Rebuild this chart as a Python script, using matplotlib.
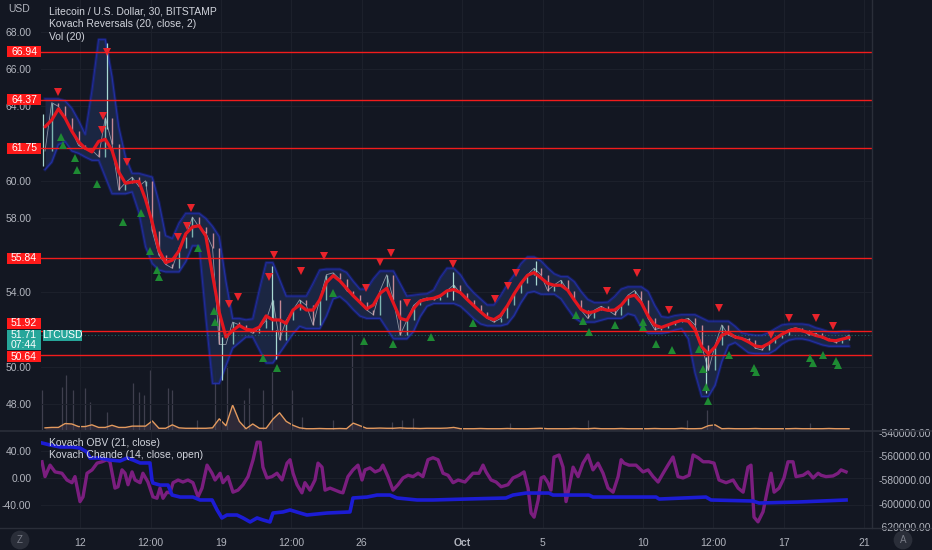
import numpy as np
import pandas as pd
import matplotlib
matplotlib.use("Agg")
import matplotlib.pyplot as plt
from matplotlib.lines import Line2D
from matplotlib.patches import Rectangle
from matplotlib.transforms import blended_transform_factory

plt.rcParams["font.family"] = ["Liberation Sans", "DejaVu Sans"]

BG = "#131722"
TXT = "#b2b5be"
GRID = "#1c202b"
LEVEL_RED = "#f21c1c"
TEAL = "#26a69a"
FS = 7.5

# time is in days since Sep 10 00:00; price bars every 8 hours from 06:00
close = [
    61.6, 64.2, 64.0, 63.4, 62.7, 61.9, 61.7, 61.65, 61.3, 63.4,
    62.0, 59.5, 59.9, 60.2, 59.7, 60.0, 57.3, 56.0, 55.5, 55.3,
    56.4, 57.0, 58.05, 57.5, 57.2, 56.4, 51.2, 51.2, 52.4, 52.25,
    52.0, 51.8, 52.1, 52.5, 53.6, 51.45, 52.5, 53.05, 53.6, 53.3,
    52.25, 53.6, 54.95, 55.05, 54.7, 54.1, 53.85, 53.5, 53.05, 52.8,
    54.1, 54.95, 53.6, 51.7, 52.5, 53.3, 53.6, 53.7, 53.6, 53.75,
    54.1, 54.4, 53.95, 53.6, 53.3, 52.95, 52.6, 52.4, 52.6, 53.3,
    53.95, 54.5, 54.95, 55.3, 54.95, 54.1, 54.4, 54.65, 54.1, 53.6,
    53.05, 52.6, 53.05, 53.25, 53.05, 52.8, 53.3, 53.85, 54.1, 53.6,
    52.6, 52.0, 52.1, 52.25, 52.4, 52.5, 52.6, 52.25, 51.15, 49.8,
    51.15, 52.25, 51.7, 51.55, 51.55, 51.45, 51.0, 50.9, 51.3, 51.55,
    51.7, 52.0, 52.1, 52.0, 51.7, 51.8, 51.55, 51.45, 51.3, 51.45,
    51.71,
]
bar_days = 0.25 + np.arange(len(close)) / 3

# single long wicks that stand out of the 8h closes
wick_t = [0.15, 3.33, 9.05, 11.54, 11.74, 20.55, 24.68, 33.13]
wick_hi = [63.6, 67.4, 51.6, 55.4, 52.0, 55.1, 55.7, 50.5]
wick_lo = [60.8, 62.8, 49.3, 52.0, 50.4, 53.6, 54.4, 48.6]

levels = [66.94, 64.37, 61.75, 55.84, 51.92, 50.64]
last_price = 51.71

# Kovach reversal marks
top_t = [0.90, 3.13, 3.08, 3.33, 4.33, 6.87, 7.31, 7.51, 9.40, 9.85,
         11.39, 11.64, 12.99, 14.13, 16.22, 16.92, 17.46, 18.26, 20.55, 22.64,
         23.28, 23.68, 28.21, 29.70, 31.29, 33.78, 36.37, 37.26, 38.61, 39.45]
top_p = [64.77, 63.48, 62.73, 66.92, 61.01, 56.98, 57.57, 58.54, 53.38, 53.75,
         54.83, 56.01, 55.15, 55.96, 54.24, 55.63, 56.12, 53.43, 55.53, 53.65,
         54.34, 55.04, 54.08, 55.04, 53.05, 53.16, 51.71, 52.62, 52.62, 52.19]
bot_t = [1.04, 1.14, 1.74, 1.84, 2.84, 4.13, 5.02, 5.47, 5.82, 5.92,
         7.86, 8.66, 8.71, 11.09, 11.79, 14.58, 16.12, 17.56, 19.45, 21.54,
         26.67, 27.01, 27.31, 28.61, 30.00, 30.00, 30.65, 31.44, 32.79, 32.99,
         33.13, 33.23, 34.28, 35.52, 35.62, 38.31, 38.46, 38.96, 39.60, 39.70]
bot_p = [62.35, 61.92, 61.23, 60.58, 59.83, 57.78, 58.27, 56.23, 55.20, 54.83,
         56.39, 53.00, 52.41, 50.47, 49.94, 53.97, 51.39, 51.23, 51.60, 52.35,
         52.78, 52.46, 51.87, 52.25, 52.41, 52.14, 51.23, 50.90, 50.96, 49.88,
         48.91, 48.16, 50.63, 49.94, 49.72, 50.47, 50.20, 50.63, 50.31, 50.10]

# volume (relative units), 20-bar average per 8h bar plus the tall single bars
vol_ma = [
    0.5, 0.6, 0.6, 1.5, 1.4, 0.8, 0.8, 1.2, 0.6, 0.6,
    1.1, 0.6, 0.6, 0.9, 0.9, 0.9, 2.1, 0.4, 0.4, 1.2,
    0.5, 0.4, 0.4, 0.4, 0.4, 0.5, 2.6, 1.0, 5.8, 2.0,
    0.3, 1.4, 0.4, 0.4, 2.5, 4.0, 2.0, 1.1, 0.5, 0.3,
    0.3, 0.35, 0.3, 0.3, 0.35, 0.3, 1.6, 1.0, 0.4, 0.4,
    0.45, 0.4, 0.4, 0.5, 0.4, 0.4, 0.35, 0.4, 0.4, 0.4,
    0.45, 0.6, 0.3, 0.3, 0.3, 0.35, 0.3, 0.3, 0.3, 0.35,
    0.3, 0.3, 0.3, 0.35, 0.4, 0.3, 0.3, 0.3, 0.3, 0.35,
    0.3, 0.3, 0.4, 0.3, 0.3, 0.3, 0.35, 0.3, 0.3, 0.3,
    0.3, 0.35, 0.3, 0.3, 0.3, 0.4, 0.3, 0.3, 0.35, 1.0,
    1.2, 0.3, 0.35, 0.3, 0.3, 0.3, 0.35, 0.3, 0.3, 0.3,
    0.3, 0.3, 0.35, 0.3, 0.3, 0.3, 0.3, 0.35, 0.3, 0.3,
    0.3,
]
spike_t = [0.10, 1.09, 1.29, 1.64, 2.24, 2.49, 3.33, 4.63, 4.93, 5.17,
           5.47, 6.37, 6.57, 7.81, 8.71, 9.30, 10.15, 10.40, 11.09, 11.54,
           12.54, 13.03, 14.58, 15.52, 16.02, 17.51, 18.01, 18.56, 23.38, 27.26,
           32.19, 33.18, 38.31]
spike_h = [9.3, 10.0, 12.8, 9.3, 9.8, 6.5, 4.2, 10.9, 8.8, 8.1,
           14.0, 9.8, 9.3, 2.3, 14.0, 15.0, 7.0, 9.8, 9.3, 13.5,
           9.3, 3.0, 2.3, 22.0, 19.8, 1.9, 2.3, 2.8, 1.6, 2.3,
           2.3, 4.7, 1.6]

# Kovach Chande (14, close, open)
ch_t = [0.10, 0.25, 0.50, 0.75, 1.09, 1.34, 1.59, 1.74, 1.99, 2.14,
        2.34, 2.59, 2.84, 3.08, 3.33, 3.48, 3.73, 3.88, 4.08, 4.23,
        4.38, 4.58, 4.73, 4.98, 5.12, 5.37, 5.62, 5.82, 5.97, 6.12,
        6.32, 6.47, 6.62, 6.87, 7.11, 7.36, 7.61, 7.86, 8.06, 8.31,
        8.56, 8.71, 8.96, 9.10, 9.35, 9.60, 9.85, 10.10, 10.35, 10.60,
        10.80, 10.95, 11.09, 11.29, 11.54, 11.79, 12.04, 12.29, 12.44, 12.59,
        12.79, 13.03, 13.18, 13.43, 13.68, 13.83, 14.03, 14.18, 14.43, 14.68,
        14.93, 15.07, 15.32, 15.57, 15.82, 16.02, 16.17, 16.42, 16.67, 16.92,
        17.06, 17.31, 17.56, 17.81, 18.06, 18.31, 18.56, 18.81, 19.05, 19.30,
        19.55, 19.80, 20.05, 20.30, 20.55, 20.80, 21.14, 21.54, 21.84, 22.04,
        22.19, 22.44, 22.69, 22.94, 23.28, 23.53, 23.83, 24.08, 24.28, 24.43,
        24.58, 24.78, 24.93, 25.07, 25.27, 25.42, 25.57, 25.82, 26.02, 26.17,
        26.32, 26.52, 26.77, 27.01, 27.26, 27.51, 27.76, 28.01, 28.26, 28.51,
        28.76, 28.91, 29.05, 29.30, 29.65, 30.00, 30.25, 30.50, 30.75, 31.00,
        31.24, 31.49, 31.74, 31.99, 32.29, 32.49, 32.74, 32.99, 33.28, 33.53,
        33.78, 34.13, 34.48, 34.73, 34.98, 35.22, 35.37, 35.52, 35.72, 35.97,
        36.22, 36.37, 36.52, 36.77, 37.01, 37.21, 37.46, 37.61, 37.96, 38.21,
        38.46, 38.71, 38.86, 39.10, 39.45, 39.70, 39.85, 40.10]
ch_v = [24, 2, 19, 9, 7, -3, -7, 2, -35, -28,
        7, 12, 22, 24, 27, 24, -15, -13, 12, 7,
        -10, 9, -3, -7, 7, -6, -28, -30, -15, -30,
        -21, -22, -7, -3, -6, -3, -7, -28, -15, 19,
        7, -3, 7, -7, 2, -21, -18, -10, 2, 27,
        53, 53, 16, 0, 2, 7, -3, 22, 27, 7,
        -10, -22, -7, -18, -3, 22, 16, -18, -15, -18,
        -21, -22, 2, 12, 19, -3, 12, 15, 9, 12,
        19, 2, -18, -10, 0, 4, 2, 7, 2, 27,
        30, 27, 7, 4, -7, -3, -6, 7, 7, 19,
        9, -3, -6, -13, -10, 0, 4, 9, -15, -52,
        -58, -33, 0, 2, -7, -18, 31, 34, 16, -35,
        -15, 16, 2, 22, 34, 12, 22, 7, -15, -21,
        2, 27, 22, 19, 19, 9, 12, 2, -6, 7,
        19, 31, 2, 0, 4, 34, 30, 24, 24, 22,
        -3, -7, -3, -15, -21, 16, 19, -58, -65, -50,
        -13, 7, -21, -15, 0, 24, 24, 2, 4, 9,
        0, 7, 4, 2, 3, 7, 12, 9]

# Kovach OBV (21, close)
obv_t = [0.10, 0.50, 1.00, 1.59, 1.99, 2.34, 2.49, 2.99, 3.48, 3.98,
         4.33, 4.63, 4.98, 5.47, 5.57, 5.62, 5.97, 6.37, 6.57, 6.97,
         7.61, 7.96, 8.56, 8.81, 9.05, 9.30, 9.80, 10.10, 10.45, 10.80,
         11.09, 11.44, 11.59, 12.09, 12.44, 12.94, 13.28, 14.28, 15.42, 15.57,
         16.27, 16.77, 17.41, 17.76, 18.76, 19.55, 21.19, 23.18, 23.53, 24.18,
         25.32, 25.52, 27.31, 27.51, 30.65, 30.80, 33.13, 33.38, 35.47, 35.77,
         37.76, 40.10]
obv_v = [-548500, -550200, -551900, -551900, -552800, -556200, -561300, -561300, -563000, -563800,
         -561300, -563000, -565500, -565500, -580000, -582600, -584300, -584300, -592800, -594500,
         -594500, -597000, -597000, -605500, -612300, -609800, -609800, -612300, -615700, -612300,
         -614000, -615700, -608100, -607200, -605500, -608100, -609800, -608100, -607200, -595300,
         -594500, -592800, -592800, -595300, -597000, -597000, -596200, -595300, -592800, -591100,
         -591100, -592800, -592800, -594500, -594500, -596200, -594500, -597000, -597900, -599600,
         -598700, -597000]

price_ticks = [48, 50, 54, 58, 60, 64, 66, 68]
tick_days = [2, 5.5, 9, 12.5, 16, 21, 25, 30, 33.5, 37, 41]
tick_labels = ["12", "12:00", "19", "12:00", "26", "Oct", "5", "10", "12:00", "17", "21"]


fig = plt.figure(figsize=(9.32, 5.5), dpi=100, facecolor=BG)
ax = fig.add_axes([41 / 932, 120 / 550, 831 / 932, 430 / 550])
ax2 = fig.add_axes([41 / 932, 22 / 550, 831 / 932, 96 / 550])
vax = ax.twinx()
ax.set_zorder(vax.get_zorder() + 1)
ax.patch.set_visible(False)

xlim = (0.05, 41.39)

# ---- volume ----
vax.set_ylim(0, 100)
vax.set_xlim(*xlim)
vax.vlines(spike_t, 0, spike_h, color="#454454", lw=0.9, alpha=0.9)
vax.fill_between(bar_days, 0, vol_ma, color="#3a3140", alpha=0.7, lw=0)
vax.plot(bar_days, vol_ma, color="#e39a5f", lw=1.0)
vax.axis("off")

# ---- price pane ----
c = np.array(close)
prev = np.r_[c[0], c[:-1]]
hi = np.maximum(prev, c)
lo = np.minimum(prev, c)
hi_b, lo_b = hi.copy(), lo.copy()
for t, h, l in zip(wick_t, wick_hi, wick_lo):
    k = int(round((t - bar_days[0]) * 3))
    hi_b[k] = max(hi_b[k], h)
    lo_b[k] = min(lo_b[k], l)

band_top = pd.Series(hi_b).rolling(3, center=True, min_periods=1).max()
band_top = band_top.rolling(2, min_periods=1).mean().shift(-1).fillna(band_top) + 0.2
band_bot = pd.Series(lo_b).rolling(3, center=True, min_periods=1).min()
band_bot = band_bot.rolling(2, min_periods=1).mean().shift(-1).fillna(band_bot) - 0.2
ma = pd.Series(c).rolling(3, center=True, min_periods=1).mean()

ax.fill_between(bar_days, band_bot, band_top, color="#1c2744", alpha=0.95, lw=0, zorder=1)
for edge in (band_top, band_bot):
    ax.plot(bar_days, edge, color="#1d2bc0", lw=2.2, alpha=0.35, zorder=1.2)
    ax.plot(bar_days, edge, color="#2b3ad8", lw=0.8, alpha=0.5, zorder=1.3)

up = c >= prev
ax.vlines(bar_days[up], lo[up], hi[up], color="#8fcfc6", lw=1.0, alpha=0.85, zorder=2)
ax.vlines(bar_days[~up], lo[~up], hi[~up], color="#e39aa5", lw=1.0, alpha=0.85, zorder=2)
ax.plot(bar_days, c, color="#c0c3cc", lw=0.6, alpha=0.7, zorder=2)
ax.vlines(wick_t, wick_lo, wick_hi, color="#a9d9d3", lw=0.9, zorder=2)

ax.plot(bar_days, ma, color="#e3161f", lw=2.3, zorder=3, solid_capstyle="round")

for lv in levels:
    ax.axhline(lv, color=LEVEL_RED, lw=1.0, zorder=3.5)
ax.axhline(last_price, color=TEAL, lw=0.8, ls=(0, (1, 2)), alpha=0.5, zorder=3.4)

ax.plot(top_t, top_p, "v", color="#e8232b", ms=5.5, mew=0, zorder=4)
ax.plot(bot_t, bot_p, "^", color="#1e8a33", ms=5.5, mew=0, zorder=4)

ax.set_xlim(*xlim)
ax.set_ylim(46.60, 69.72)
ax.set_yticks(price_ticks)
ax.set_yticklabels([f"{v:.2f}" for v in price_ticks])
ax.set_xticks(tick_days)
ax.tick_params(axis="x", labelbottom=False, length=0)
ax.tick_params(axis="y", colors=TXT, labelsize=FS, length=0, pad=7)
ax.grid(True, color=GRID, lw=0.8)
ax.set_axisbelow(True)
for s in ax.spines.values():
    s.set_visible(False)

# price labels on the axis
tr = blended_transform_factory(ax.transAxes, ax.transData)
box_w = 34 / 831
box_h = 0.59
label_y = {66.94: 66.94, 64.37: 64.37, 61.75: 61.75, 55.84: 55.84, 51.92: 52.33, 50.64: 50.53}
for lv in levels:
    y = label_y[lv]
    ax.add_patch(Rectangle((-box_w, y - box_h / 2), box_w, box_h, transform=tr,
                           facecolor="#ff1a1a", edgecolor="none", clip_on=False, zorder=6))
    ax.text(-box_w / 2, y, f"{lv:.2f}", transform=tr, ha="center", va="center",
            color="white", fontsize=FS, clip_on=False, zorder=7)
ax.add_patch(Rectangle((-box_w, 50.90), box_w, 1.08, transform=tr,
                       facecolor=TEAL, edgecolor="none", clip_on=False, zorder=6))
ax.text(-box_w / 2, 51.71, f"{last_price:.2f}", transform=tr, ha="center", va="center",
        color="white", fontsize=FS, clip_on=False, zorder=7)
ax.text(-box_w / 2, 51.17, "07:44", transform=tr, ha="center", va="center",
        color="white", fontsize=FS, clip_on=False, zorder=7)
ax.add_patch(Rectangle((2 / 831, 51.39), 39 / 831, 0.59, transform=tr,
                       facecolor=TEAL, edgecolor="none", clip_on=False, zorder=6))
ax.text(21.5 / 831, 51.69, "LTCUSD", transform=tr, ha="center", va="center",
        color="white", fontsize=FS, zorder=7)

legend_lines = ["Litecoin / U.S. Dollar, 30, BITSTAMP", "Kovach Reversals (20, close, 2)", "Vol (20)"]
for i, s in enumerate(legend_lines):
    ax.text(0.0096, 0.974 - i * 0.030, s, transform=ax.transAxes, color="#d1d4dc",
            fontsize=FS, va="center", zorder=8)
fig.text(8 / 932, 1 - 9 / 550, "USD", color=TXT, fontsize=FS, va="center")

# ---- indicator pane ----
ax3 = ax2.twinx()
ax2.plot(ch_t, ch_v, color="#7b1e7f", lw=2.4, solid_joinstyle="round")
ax3.plot(obv_t, obv_v, color="#1c1cd4", lw=2.6, solid_joinstyle="round")
ax2.set_xlim(*xlim)
ax2.set_ylim(-74.1, 68.1)
ax3.set_ylim(-620850, -539150)
ax2.set_yticks([40, 0, -40])
ax2.set_yticklabels(["40.00", "0.00", "-40.00"])
r_ticks = [-540000, -560000, -580000, -600000, -620000]
ax3.set_yticks(r_ticks)
ax3.set_yticklabels([f"{v:.2f}" for v in r_ticks])
ax2.set_xticks(tick_days)
ax2.set_xticklabels(tick_labels)
for lab in ax2.get_xticklabels():
    if lab.get_text() == "Oct":
        lab.set_fontweight("bold")
ax2.tick_params(axis="x", colors=TXT, labelsize=FS, length=0, pad=7)
ax2.tick_params(axis="y", colors=TXT, labelsize=FS, length=0, pad=7)
ax3.tick_params(axis="y", colors=TXT, labelsize=FS, length=0, pad=5)
ax2.grid(True, color=GRID, lw=0.8)
ax2.set_axisbelow(True)
ax2.set_facecolor(BG)
for a in (ax2, ax3):
    for s in a.spines.values():
        s.set_visible(False)
ax3.text(0.0096, 0.885, "Kovach OBV (21, close)", transform=ax3.transAxes,
         color="#d1d4dc", fontsize=FS, va="center", zorder=8)
ax3.text(0.0096, 0.76, "Kovach Chande (14, close, open)", transform=ax3.transAxes,
         color="#d1d4dc", fontsize=FS, va="center", zorder=8)

# pane separators
sep = "#2a2e39"
fig.add_artist(Line2D([0, 1], [119 / 550, 119 / 550], color=sep, lw=1.2))
fig.add_artist(Line2D([0, 1], [22 / 550, 22 / 550], color=sep, lw=1.0))
fig.add_artist(Line2D([872 / 932, 872 / 932], [22 / 550, 1], color=sep, lw=1.0))

for x, s in ((20, "Z"), (903, "A")):
    fig.text(x / 932, 10 / 550, s, color="#787b86", fontsize=7, ha="center", va="center",
             bbox=dict(boxstyle="circle,pad=0.45", fc="#2a2e39", ec="none"))

fig.savefig("out.png", dpi=100, facecolor=BG)
